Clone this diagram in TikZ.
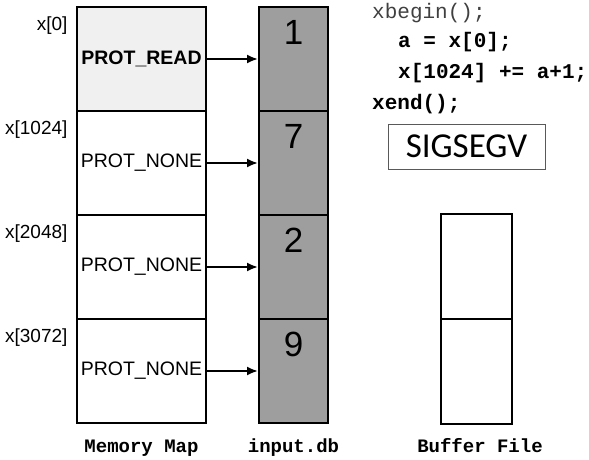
\documentclass[tikz,border=0pt]{standalone}
\usepackage{fontspec}
\setmainfont{Liberation Sans}
\setmonofont{Liberation Mono}
\newfontfamily\sigfont{Carlito}
\usetikzlibrary{arrows.meta,positioning}
\tikzset{
  celda/.style     = {draw, line width=2pt, minimum width=129pt, minimum height=104pt, inner sep=0pt, font=\fontsize{19.5}{22}\selectfont},
  dbcelda/.style   = {draw, line width=2pt, fill=black!38, minimum width=69pt, minimum height=104pt, inner sep=0pt},
  bufcelda/.style  = {draw, line width=2pt, minimum width=71pt, minimum height=105pt, inner sep=0pt},
  codigo/.style    = {anchor=west, inner sep=0pt, font=\ttfamily\bfseries\fontsize{21}{24}\selectfont},
  rotulo/.style    = {anchor=base, font=\ttfamily\bfseries\fontsize{19}{22}\selectfont},
  direccion/.style = {anchor=east, font=\fontsize{19}{21}\selectfont},
  flecha/.style    = {-{Latex[length=11pt,width=9pt]}, line width=2pt}
}

\begin{document}
\begin{tikzpicture}[x=1pt, y=-1pt]
  \useasboundingbox (0,0) rectangle (589,460);
  % memory map and input.db
  \foreach \i/\y/\prot/\col/\num/\dir in {1/59/\textbf{PROT\_READ}/gray!12/1/x[0],
                                          2/163/PROT\_NONE/white/7/x[1024],
                                          3/267/PROT\_NONE/white/2/x[2048],
                                          4/371/PROT\_NONE/white/9/x[3072]}{
    \node[celda, fill=\col] (m\i) at (141.5,\y) {\prot};
    \node[dbcelda] (d\i) at (293.5,\y) {};
    \node[font=\fontsize{35}{38}\selectfont, below=11pt of d\i.north] (n\i) {\num};
    \node[direccion] (l\i) at ([xshift=-5pt, yshift=-20pt]m\i.north west) {\dir};
    \draw[flecha] (m\i) -- (d\i);
  }
  % code
  \node[codigo, font=\ttfamily\fontsize{21}{24}\selectfont, text=black!75] (c1) at (372,13) {xbegin();};
  \node[codigo] (c2) at (398,42) {a = x[0];};
  \node[codigo] (c3) at (398,73) {x[1024] += a+1;};
  \node[codigo] (c4) at (372,104) {xend();};
  \node[draw=black!65, line width=1pt, minimum width=157pt, minimum height=45pt, font=\sigfont\fontsize{35}{38}\selectfont] (sig) at (466.5,146.5) {SIGSEGV};
  % buffer file
  \node[bufcelda] (b1) at (476.5,266) {};
  \node[bufcelda] (b2) at (476.5,371) {};
  % captions
  \node[rotulo] (t1) at (141.5,452) {Memory Map};
  \node[rotulo] (t2) at (293.5,452) {input.db};
  \node[rotulo] (t3) at (480,452) {Buffer File};
\end{tikzpicture}
\end{document}
